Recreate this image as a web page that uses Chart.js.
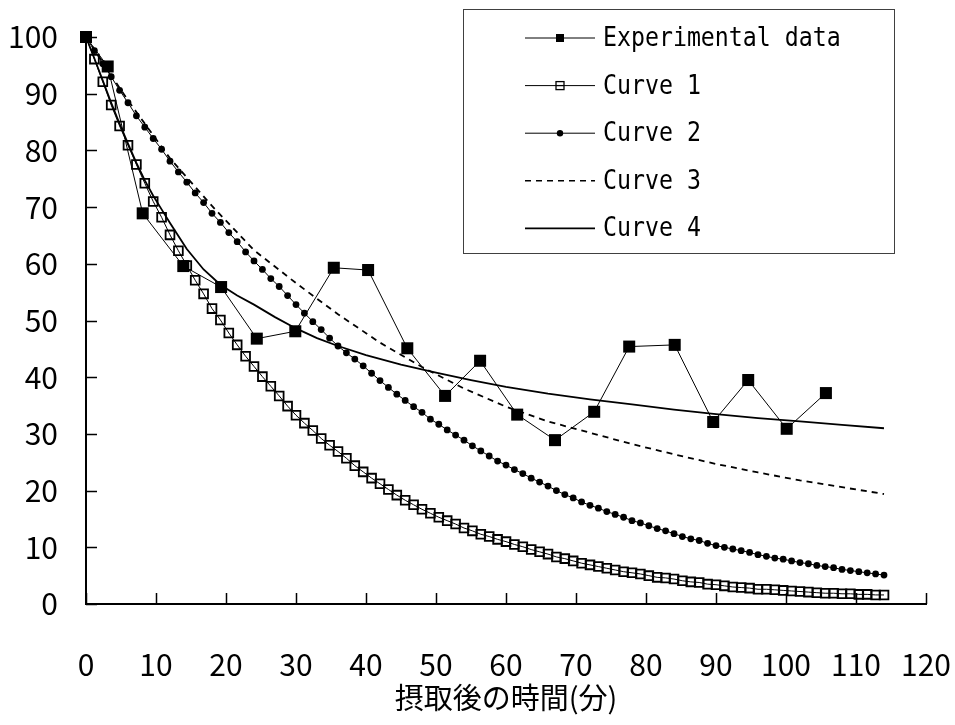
<!DOCTYPE html>
<html>
<head>
<meta charset="utf-8">
<script src="https://cdn.jsdelivr.net/npm/chart.js@4/dist/chart.umd.min.js"></script>
<style>
  body { margin: 0; background: #fff; }
  #wrap { width: 955px; height: 725px; position: relative; }
</style>
</head>
<body>
<div id="wrap"><canvas id="myChart"></canvas></div>
<script>
// measured data (time in minutes, value in %)
const expTimes = [0, 3.1, 8.1, 13.9, 19.3, 24.4, 29.9, 35.4, 40.3, 45.9, 51.3, 56.3, 61.6, 67.0, 72.6, 77.6, 84.1, 89.6, 94.6, 100.1, 105.7];
const expValues = [100, 94.8, 68.9, 59.6, 55.9, 46.8, 48.1, 59.3, 58.9, 45.1, 36.7, 42.9, 33.4, 28.9, 33.9, 45.4, 45.7, 32.1, 39.5, 30.9, 37.2];

// model curves 1 and 2 share the same time grid
const curveTimes = [0, 1.2, 2.4, 3.6, 4.8, 6, 7.2, 8.4, 9.6, 10.8, 12, 13.2, 14.4, 15.6, 16.8, 18, 19.2, 20.4, 21.6, 22.8,
  24, 25.2, 26.4, 27.6, 28.8, 30, 31.2, 32.4, 33.6, 34.8, 36, 37.2, 38.4, 39.6, 40.8, 42, 43.2, 44.4, 45.6, 46.8,
  48, 49.2, 50.4, 51.6, 52.8, 54, 55.2, 56.4, 57.6, 58.8, 60, 61.2, 62.4, 63.6, 64.8, 66, 67.2, 68.4, 69.6, 70.8,
  72, 73.2, 74.4, 75.6, 76.8, 78, 79.2, 80.4, 81.6, 82.8, 84, 85.2, 86.4, 87.6, 88.8, 90, 91.2, 92.4, 93.6, 94.8,
  96, 97.2, 98.4, 99.6, 100.8, 102, 103.2, 104.4, 105.6, 106.8, 108, 109.2, 110.4, 111.6, 112.8, 114];

const curve1 = [100, 96.1, 92.1, 88.0, 84.3, 80.9, 77.5, 74.2, 71.0, 68.2,
  65.1, 62.3, 59.7, 57.1, 54.7, 52.1, 50.1, 47.8, 45.7, 43.7,
  41.9, 40.1, 38.4, 36.7, 34.9, 33.3, 31.9, 30.6, 29.2, 28.0,
  26.9, 25.7, 24.4, 23.3, 22.2, 21.2, 20.2, 19.2, 18.3, 17.5,
  16.7, 16.0, 15.3, 14.7, 14.1,
  13.4, 12.9, 12.3, 11.9, 11.4, 11.0, 10.5, 10.1, 9.6, 9.2, 8.8, 8.3, 8.0, 7.6, 7.2, 6.9, 6.6, 6.3, 6.0, 5.7,
  5.5, 5.3, 5.0, 4.7, 4.6, 4.4, 4.1, 3.9, 3.8, 3.5, 3.4, 3.2, 3.0, 2.9, 2.8, 2.6, 2.6, 2.5, 2.4, 2.3,
  2.2, 2.1, 2.0, 1.9, 1.9, 1.8, 1.8, 1.7, 1.7, 1.6, 1.6];

const curve2 = [100, 97.6, 95.3, 93.0, 90.6, 88.4, 86.1, 84.1, 82.1, 80.2,
  78.1, 76.2, 74.4, 72.5, 70.8, 68.9, 67.3, 65.5, 63.9, 62.1,
  60.5, 59.0, 57.4, 56.0, 54.4, 52.8, 51.3, 49.8, 48.4, 46.9,
  45.5, 44.3, 43.2, 42.0, 40.7, 39.4, 38.2, 37.0, 35.9, 34.8,
  33.8, 32.6, 31.7, 30.7, 29.8, 28.9, 27.9, 27.0, 26.1,
  25.2, 24.5, 23.7, 23.0, 22.2, 21.5, 20.8, 20.0, 19.3, 18.7, 18.0, 17.4, 16.9, 16.3, 15.8, 15.3,
  14.7, 14.3, 13.8, 13.3, 12.9, 12.4, 11.9, 11.5, 11.2, 10.7, 10.3, 10.0, 9.7, 9.4, 9.1, 8.7,
  8.4, 8.1, 7.9, 7.6, 7.3, 7.1, 6.8, 6.6, 6.4, 6.1, 5.9, 5.7, 5.5, 5.3, 5.1];

const curve3Times = [0, 6, 12, 18, 24, 30, 36, 42, 48, 54, 60, 66, 72, 78, 84, 90, 96, 102, 108, 114];
const curve3 = [100, 88.8, 78.6, 70.2, 62.4, 56.6, 51.1, 46.1, 41.8, 38.0, 34.8, 32.2, 30.2, 28.2, 26.4, 24.7, 23.2, 21.8, 20.6, 19.4];

const curve4Times = [0, 1.2, 2.4, 3.6, 4.8, 6, 7.2, 8.4, 9.6, 10.8, 12, 14.4, 16.8, 19.2, 21.6, 24, 27, 30, 33, 36,
  40, 45, 50, 55, 60, 66, 72, 78, 84, 90, 96, 102, 108, 114];
const curve4 = [100, 96.2, 92.3, 88.4, 84.7, 81.2, 77.8, 74.7, 72.0, 69.6, 67.2, 62.6, 59.0, 56.3, 54.4, 52.8, 50.6, 48.6, 46.9, 45.5,
  43.9, 42.2, 40.8, 39.5, 38.3, 37.1, 36.1, 35.2, 34.3, 33.5, 32.8, 32.2, 31.6, 31.0];

const seriesNames = ["Experimental data", "Curve 1", "Curve 2", "Curve 3", "Curve 4"];
const xTitle = "摂取後の時間(分)";

const toPoints = (xs, ys) => xs.map((x, i) => ({ x: x, y: ys[i] }));

const axisFont = { family: "'Noto Sans CJK JP', sans-serif", size: 30 };

// inward tick marks on both axes
const innerTicks = {
  id: "innerTicks",
  afterDraw(chart) {
    const ctx = chart.ctx;
    const xs = chart.scales.x;
    const ys = chart.scales.y;
    const area = chart.chartArea;
    ctx.save();
    ctx.strokeStyle = "#000";
    ctx.lineWidth = 1.5;
    ctx.beginPath();
    xs.ticks.forEach((t) => {
      const px = Math.round(xs.getPixelForValue(t.value)) + 0.5;
      ctx.moveTo(px, area.bottom);
      ctx.lineTo(px, area.bottom - 11);
    });
    ys.ticks.forEach((t) => {
      const py = Math.round(ys.getPixelForValue(t.value)) + 0.5;
      ctx.moveTo(area.left, py);
      ctx.lineTo(area.left + 11, py);
    });
    ctx.stroke();
    ctx.restore();
  },
};

// boxed legend with line + marker samples
const boxLegend = {
  id: "boxLegend",
  afterDraw(chart) {
    const ctx = chart.ctx;
    ctx.save();
    ctx.strokeStyle = "#404040";
    ctx.lineWidth = 1;
    ctx.fillStyle = "#fff";
    ctx.fillRect(463.5, 9.5, 431, 244);
    ctx.strokeRect(463.5, 9.5, 431, 244);

    chart.data.datasets.forEach((ds, i) => {
      const y = 38 + i * 47.6;
      ctx.strokeStyle = "#000";
      ctx.lineWidth = ds.legendLineWidth || 1;
      ctx.setLineDash(ds.borderDash || []);
      ctx.beginPath();
      ctx.moveTo(525, y);
      ctx.lineTo(595, y);
      ctx.stroke();
      ctx.setLineDash([]);

      if (ds.pointRadius > 0) {
        const mx = 560;
        if (ds.pointStyle === "rect") {
          const s = 8;
          if (ds.pointBackgroundColor === "#000") {
            ctx.fillStyle = "#000";
            ctx.fillRect(mx - s / 2, y - s / 2, s, s);
          } else {
            ctx.fillStyle = "#fff";
            ctx.fillRect(mx - s / 2, y - s / 2, s, s);
            ctx.lineWidth = 1.3;
            ctx.strokeRect(mx - s / 2, y - s / 2, s, s);
            ctx.beginPath();
            ctx.moveTo(mx - s / 2, y);
            ctx.lineTo(mx + s / 2, y);
            ctx.stroke();
          }
        } else {
          ctx.fillStyle = "#000";
          ctx.beginPath();
          ctx.arc(mx, y, 3.2, 0, Math.PI * 2);
          ctx.fill();
        }
      }

      ctx.save();
      ctx.translate(603, y + 1);
      ctx.scale(0.86, 1);
      ctx.fillStyle = "#000";
      ctx.font = "27px 'DejaVu Sans Mono', monospace";
      ctx.textBaseline = "middle";
      ctx.fillText(ds.label, 0, 0);
      ctx.restore();
    });
    ctx.restore();
  },
};

const data = {
  datasets: [
    {
      label: seriesNames[0],
      data: toPoints(expTimes, expValues),
      borderColor: "#000",
      borderWidth: 1,
      pointStyle: "rect",
      pointRadius: 8.5,
      pointBackgroundColor: "#000",
      pointBorderWidth: 0,
      legendLineWidth: 1,
    },
    {
      label: seriesNames[1],
      data: toPoints(curveTimes, curve1),
      borderColor: "#000",
      borderWidth: 1,
      pointStyle: "rect",
      pointRadius: 6.2,
      pointBackgroundColor: "rgba(0,0,0,0)",
      pointBorderColor: "#000",
      pointBorderWidth: 1.8,
      legendLineWidth: 1,
    },
    {
      label: seriesNames[2],
      data: toPoints(curveTimes, curve2),
      borderColor: "#000",
      borderWidth: 1,
      pointStyle: "circle",
      pointRadius: 3.4,
      pointBackgroundColor: "#000",
      pointBorderWidth: 0,
      legendLineWidth: 1,
    },
    {
      label: seriesNames[3],
      data: toPoints(curve3Times, curve3),
      borderColor: "#000",
      borderWidth: 1.8,
      borderDash: [6, 5],
      pointRadius: 0,
      legendLineWidth: 1.6,
    },
    {
      label: seriesNames[4],
      data: toPoints(curve4Times, curve4),
      borderColor: "#000",
      borderWidth: 1.8,
      pointRadius: 0,
      legendLineWidth: 1.6,
    },
  ],
};

const configChart = {
  type: "line",
  data: data,
  options: {
    responsive: true,
    maintainAspectRatio: false,
    animation: false,
    layout: { autoPadding: false, padding: { top: 37, right: 29, left: 0, bottom: 0 } },
    elements: { line: { tension: 0 } },
    datasets: { line: { clip: false } },
    plugins: {
      legend: { display: false },
      tooltip: { enabled: false },
    },
    scales: {
      x: {
        type: "linear",
        min: 0,
        max: 120,
        grid: { display: false, drawTicks: false },
        border: { display: true, color: "#000", width: 2 },
        ticks: { stepSize: 10, color: "#000", font: axisFont, padding: 43, maxRotation: 0 },
        title: {
          display: true,
          text: xTitle,
          color: "#000",
          font: { family: "'Noto Sans CJK JP', sans-serif", size: 29 },
          padding: { top: 0, bottom: 10 },
        },
        afterFit: (scale) => {
          scale.height = 121;
          scale.paddingLeft = 0;
          scale.paddingRight = 0;
        },
      },
      y: {
        min: 0,
        max: 100,
        grid: { display: false, drawTicks: false },
        border: { display: true, color: "#000", width: 2 },
        ticks: { stepSize: 10, color: "#000", font: axisFont, padding: 28 },
        afterFit: (scale) => {
          scale.width = 86;
          scale.paddingTop = 0;
          scale.paddingBottom = 0;
        },
      },
    },
  },
  plugins: [innerTicks, boxLegend],
};

const myChart = new Chart(document.querySelector("#myChart"), configChart);
</script>
</body>
</html>
